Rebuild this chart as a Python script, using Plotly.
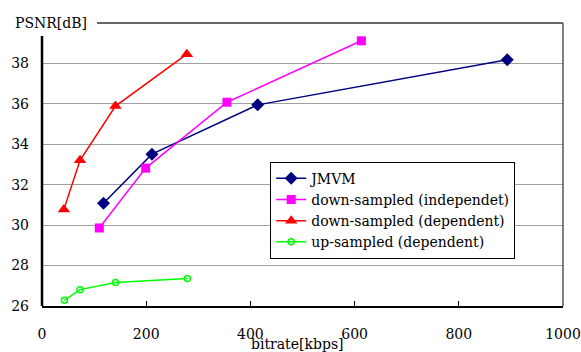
import plotly.graph_objects as go

jmvm_x = [118, 211, 414, 893]
jmvm_y = [31.08, 33.51, 35.95, 38.18]
dsi_x = [110, 199, 355, 613]
dsi_y = [29.86, 32.82, 36.08, 39.12]
dsd_x = [42, 73, 141, 278]
dsd_y = [30.78, 33.21, 35.89, 38.46]
usd_x = [43, 73, 141, 279]
usd_y = [26.28, 26.81, 27.16, 27.36]

x_ticks = [0, 200, 400, 600, 800, 1000]
y_ticks = [26, 28, 30, 32, 34, 36, 38]

FONT = "DejaVu Serif"
FS = 14

fig = go.Figure()
fig.add_trace(go.Scatter(x=jmvm_x, y=jmvm_y, name="JMVM", mode="lines+markers",
                         line=dict(color="#000080", width=1.5),
                         marker=dict(symbol="diamond", size=10, color="#000080"),
                         legendgroup="a"))
fig.add_trace(go.Scatter(x=dsi_x, y=dsi_y, name="down-sampled (independet)", mode="lines+markers",
                         line=dict(color="#ff00ff", width=1.5),
                         marker=dict(symbol="square", size=9, color="#ff00ff"),
                         legendgroup="b"))
fig.add_trace(go.Scatter(x=dsd_x, y=dsd_y, name="down-sampled (dependent)", mode="lines+markers",
                         line=dict(color="#ff0000", width=1.5),
                         marker=dict(symbol="triangle-up", size=11, color="#ff0000"),
                         legendgroup="c"))
fig.add_trace(go.Scatter(x=usd_x, y=usd_y, name="up-sampled (dependent)", mode="lines+markers",
                         line=dict(color="#00ff00", width=1.5),
                         marker=dict(symbol="circle-open", size=6, color="#00ff00", line=dict(width=1.5)),
                         legendgroup="d"))

fig.update_layout(
    width=581, height=352,
    margin=dict(l=42, r=18, t=23, b=46, autoexpand=False),
    paper_bgcolor="white", plot_bgcolor="white",
    font=dict(family=FONT, size=FS, color="black"),
    showlegend=True,
    legend=dict(x=0.438, y=0.51, xanchor="left", yanchor="top",
                bgcolor="white", bordercolor="black", borderwidth=1,
                font=dict(family=FONT, size=FS), tracegroupgap=14,
                traceorder="normal"),
    xaxis=dict(range=[0, 1000], tickvals=x_ticks, ticks="inside", ticklen=5,
               tickcolor="black", showgrid=False, zeroline=False,
               showline=True, linecolor="black", linewidth=1.5, automargin=False,
               ticklabelstandoff=14, ticklabeloverflow="allow",
               tickfont=dict(family=FONT, size=FS)),
    yaxis=dict(range=[26, 40], tickvals=y_ticks, ticks="", showgrid=True,
               gridcolor="#a0a0a0", gridwidth=1, zeroline=False, showline=False,
               automargin=False, ticklabelstandoff=12,
               tickfont=dict(family=FONT, size=FS)),
    annotations=[
        dict(text="PSNR[dB]", xref="paper", yref="paper", x=0.018, y=1.0,
             xanchor="center", yanchor="middle", showarrow=False,
             font=dict(family=FONT, size=FS)),
        dict(text="bitrate[kbps]", xref="paper", yref="paper", x=0.49, y=-0.135,
             xanchor="center", yanchor="middle", showarrow=False,
             font=dict(family=FONT, size=FS)),
    ],
    shapes=[
        dict(type="line", xref="paper", yref="paper", x0=0, x1=0, y0=0, y1=0.954,
             line=dict(color="black", width=2.5)),
        dict(type="line", xref="paper", yref="paper", x0=0.1056, x1=1, y0=1, y1=1,
             line=dict(color="#333333", width=1.5)),
        dict(type="line", xref="paper", yref="paper", x0=1, x1=1, y0=0, y1=1,
             line=dict(color="#555555", width=1.5)),
    ],
)

fig.write_html("out.html", config={"displayModeBar": False},
               post_script="document.body.style.margin='0';document.body.style.overflow='hidden';")
